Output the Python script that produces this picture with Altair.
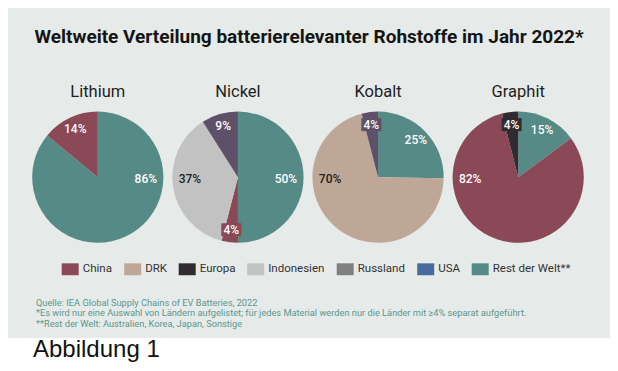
import altair as alt
import pandas as pd

# ---------------- data ----------------
title_text = "Weltweite Verteilung batterierelevanter Rohstoffe im Jahr 2022*"
rohstoffe = ["Lithium", "Nickel", "Kobalt", "Graphit"]

slice_rohstoff = ["Lithium", "Lithium",
                  "Nickel", "Nickel", "Nickel", "Nickel",
                  "Kobalt", "Kobalt", "Kobalt",
                  "Graphit", "Graphit", "Graphit"]
slice_land = ["Rest der Welt**", "China",
              "Rest der Welt**", "China", "Indonesien", "Russland",
              "Rest der Welt**", "DRK", "Russland",
              "Rest der Welt**", "China", "Europa"]
slice_anteil = [86, 14,
                50, 4, 37, 9,
                25, 70, 4,
                15, 82, 4]

laender = ["China", "DRK", "Europa", "Indonesien", "Russland", "USA", "Rest der Welt**"]
legend_colors = ["#8b4857", "#bfa797", "#2f2b31", "#c2c2c2", "#808080", "#4a6a9f", "#558a86"]
pie_colors = ["#8b4857", "#bfa797", "#2f2b31", "#c2c2c2", "#5e5068", "#4a6a9f", "#558a86"]

footnotes = [
    "Quelle: IEA Global Supply Chains of EV Batteries, 2022",
    "*Es wird nur eine Auswahl von Ländern aufgelistet; für jedes Material werden nur die Länder mit ≥4% separat aufgeführt.",
    " **Rest der Welt: Australien, Korea, Japan, Sonstige",
]
figure_label = "Abbildung 1"

# ---------------- layout / style ----------------
W, H = 602, 355
BG = "#e6eae8"
FONT = "Roboto"
PIE_CY = 169.2
PIE_R = 65.6

slices = pd.DataFrame({
    "Rohstoff": slice_rohstoff,
    "Land": slice_land,
    "Anteil": slice_anteil,
})
slices["order"] = range(len(slices))

xscale = alt.Scale(type="point", domain=rohstoffe, range=[89.8, 510.2], padding=0)
theta_scale = alt.Scale(domain=[0, 100], range=[0, 6.283185307179586], zero=False, nice=False)
pie_scale = alt.Scale(domain=laender, range=pie_colors)

base = alt.Chart(slices).transform_window(
    cum="sum(Anteil)", groupby=["Rohstoff"], sort=[alt.SortField("order")], frame=[None, 0]
).transform_joinaggregate(
    total="sum(Anteil)", groupby=["Rohstoff"]
).transform_calculate(
    start="(datum.cum - datum.Anteil) / datum.total * 100",
    end="datum.cum / datum.total * 100",
    label="datum.Anteil + '%'",
).transform_calculate(
    mid="(datum.start + datum.end) / 2",
).transform_calculate(
    lab_pos="datum.Anteil >= 30 ? (datum.mid < 50 ? 25 : 75) : datum.mid",
    lab_r="datum.Anteil >= 30 ? 48 : 53",
).transform_calculate(
    ox="datum.lab_r * sin(datum.lab_pos / 100 * 2 * PI)",
    oy="-datum.lab_r * cos(datum.lab_pos / 100 * 2 * PI) + (datum.Anteil >= 30 ? 2 : 0)",
)

xenc = alt.X("Rohstoff:N", scale=xscale, axis=None)

background = alt.Chart(pd.DataFrame({"a": [0]})).mark_rect(color=BG).encode(
    x=alt.value(0), x2=alt.value(W), y=alt.value(0), y2=alt.value(330)
)

arcs = base.mark_arc(radius=PIE_R).encode(
    x=xenc,
    y=alt.value(PIE_CY),
    theta=alt.Theta("start:Q", scale=theta_scale, stack=None),
    theta2="end:Q",
    color=alt.Color("Land:N", scale=pie_scale, legend=None),
)

boxes = base.transform_filter("datum.Anteil < 5").mark_point(
    shape="M-1,-0.65L1,-0.65L1,0.65L-1,0.65Z", filled=True, opacity=1, size=400
).encode(
    x=xenc,
    y=alt.value(PIE_CY),
    xOffset=alt.XOffset("ox:Q", scale=None),
    yOffset=alt.YOffset("oy:Q", scale=None),
    color=alt.Color("Land:N", scale=pie_scale, legend=None),
)

labels = base.mark_text(font=FONT, fontSize=12, fontWeight=500, baseline="middle", align="center").encode(
    x=xenc,
    y=alt.value(PIE_CY),
    xOffset=alt.XOffset("ox:Q", scale=None),
    yOffset=alt.YOffset("oy:Q", scale=None),
    text="label:N",
    color=alt.condition("datum.Land == 'Indonesien' || datum.Land == 'DRK'",
                        alt.value("#222222"), alt.value("#ffffff")),
)

pie_titles = alt.Chart(pd.DataFrame({"Rohstoff": rohstoffe})).mark_text(
    font=FONT, fontSize=16.5, color="#1e1e1e", baseline="middle"
).encode(
    x=xenc, y=alt.value(84), text="Rohstoff:N"
)

main_title = alt.Chart(pd.DataFrame({"t": [title_text]})).mark_text(
    font=FONT, fontSize=19, fontWeight="bold", color="#151515", align="center", baseline="alphabetic"
).encode(x=alt.value(301), y=alt.value(35), text="t:N")

legend_layer = alt.Chart(pd.DataFrame({"Land": laender})).mark_square(opacity=0).encode(
    x=alt.value(0), y=alt.value(0),
    color=alt.Color(
        "Land:N",
        scale=alt.Scale(domain=laender, range=legend_colors),
        legend=alt.Legend(
            orient="none", legendX=53.7, legendY=252.5, direction="horizontal", title=None,
            symbolType="M-1,-0.7L1,-0.7L1,0.7L-1,0.7Z", symbolSize=289, symbolStrokeWidth=0,
            symbolOpacity=1, labelFont=FONT, labelFontSize=11.5, labelColor="#333333",
            labelOffset=4, columnPadding=11.5,
        ),
    ),
)

notes = alt.Chart(pd.DataFrame({"t": ["\n".join(footnotes)]})).mark_text(
    font=FONT, fontSize=9.25, color="#5a988f", align="left", baseline="alphabetic",
    lineBreak="\n", lineHeight=10.5
).encode(x=alt.value(28), y=alt.value(297.7), text="t:N")

fig_label = alt.Chart(pd.DataFrame({"t": [figure_label]})).mark_text(
    font="Liberation Sans", fontSize=24, color="#111111", align="left", baseline="alphabetic"
).encode(x=alt.value(25), y=alt.value(349), text="t:N")

chart = alt.layer(
    background, arcs, boxes, labels, pie_titles, main_title, legend_layer, notes, fig_label
).resolve_scale(color="independent").properties(
    width=W, height=H, autosize=alt.AutoSizeParams(type="none"), padding=0, background="white"
).configure_view(stroke=None)

chart.save("out.html", embed_options={"renderer": "svg", "actions": False})
